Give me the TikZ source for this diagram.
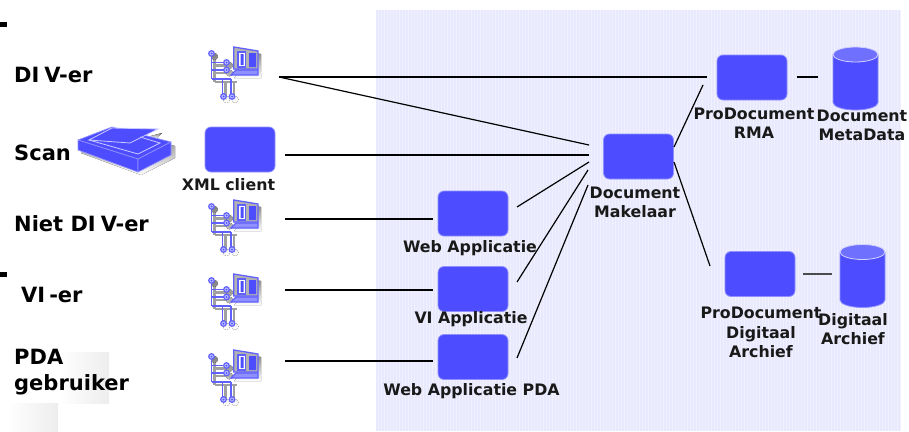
\documentclass[tikz,border=0pt]{standalone}
\usepackage{fontspec}
\setmainfont{DejaVu Sans}
\definecolor{boxblue}{HTML}{4D4DFF}
\definecolor{boxedge}{HTML}{8F8FFF}
\definecolor{lidblue}{HTML}{7070FF}
\definecolor{panel}{HTML}{E9E9FD}
\definecolor{panelgrid}{HTML}{F0F0FE}
\definecolor{shade}{HTML}{A0A0A0}
\definecolor{wire}{HTML}{6060FF}
\tikzset{
  appbox/.style={draw=boxedge,line width=0.8pt,fill=boxblue,rounded corners=6pt,minimum width=70pt,minimum height=45pt,inner sep=0pt,outer sep=0pt},
  actor/.style={anchor=west,inner sep=0pt,font=\fontsize{21}{26}\selectfont\bfseries,align=left},
  captext/.style={inner sep=0pt,font=\fontsize{15.8}{19.2}\selectfont\bfseries,align=center,text=black!90},
  link/.style={draw=black,line width=1.2pt},
  drum/.pic={
    \draw[boxedge,line width=0.8pt,fill=boxblue] (-22.5,-24) -- (-22.5,24) arc[start angle=180,end angle=0,x radius=22.5,y radius=7.5] -- (22.5,-24) -- cycle;
    \draw[white!75!boxblue,line width=0.8pt,fill=lidblue] (0,-24) ellipse [x radius=22.5,y radius=7.5];
  },
  board/.pic={
    \begin{scope}[shift={(3,3)},draw=shade,line width=2.4pt]
      \draw (3.5,9) -- (3.5,32) (3.5,15.5) -- (18.5,15.5) (3.5,23) -- (18.5,23) (3.5,32) -- (26,32) (14.5,32) -- (14.5,47) (23,32) -- (23,47);
      \fill[shade] (25.7,0) -- (50,4) -- (50,22) -- (25.7,22) -- cycle (23,28) -- (28,23) -- (50,23) -- (50,28) -- cycle;
      \fill[shade] (3.5,6.5) circle (3.4) (18.5,15.5) circle (3.4) (18.5,23) circle (3.4) (15.5,49.5) circle (3.4) (24,49.5) circle (3.4);
    \end{scope}
    \begin{scope}[draw=wire,line width=1.7pt]
      \draw (3.5,9) -- (3.5,32) (3.5,15.5) -- (18.5,15.5) (3.5,23) -- (18.5,23) (3.5,32) -- (23,32) (14.5,32) -- (14.5,47) (23,32) -- (23,47);
      \draw[fill=black!30!white,line width=1.3pt] (25.7,0) -- (50,4) -- (50,22) -- (25.7,22) -- cycle;
      \draw[fill=white,line width=1.2pt] (30,5) rectangle (37.5,20);
      \fill[boxblue] (32.5,7) rectangle (35.5,18) (41,6) rectangle (48,20);
      \draw[fill=boxedge,line width=1.1pt] (23,28) -- (28,23) -- (50,23) -- (50,28) -- cycle;
      \draw[fill=white!60!wire,line width=1.2pt] (3.5,6.5) circle (2.8) (18.5,15.5) circle (2.8) (18.5,23) circle (2.8) (15.5,49.5) circle (2.8) (24,49.5) circle (2.8);
      \fill[boxblue] (3.5,6.5) circle (1) (18.5,15.5) circle (1) (18.5,23) circle (1) (15.5,49.5) circle (1) (24,49.5) circle (1);
    \end{scope}
  }
}
\begin{document}
\begin{tikzpicture}[x=1pt,y=-1pt]
\useasboundingbox (0,0) rectangle (909,431);
% panel
\fill[panel] (376,10) rectangle (901,431);
\draw[panelgrid,line width=0.5pt,step=3] (376,10) grid (901,431);
% checker behind PDA label
\shade[left color=white,right color=black!7] (58,352) rectangle (109,403);
\shade[left color=white,right color=black!7] (7,403) rectangle (58,431);
% bullets
\fill[black] (0,22) rectangle (7,27);
\fill[black] (0,272) rectangle (7,277);
% actors
\node[actor] (divLabel) at (14,75) {DI\kern5pt V-er};
\node[actor] (scanLabel) at (14,153) {Scan};
\node[actor] (nietLabel) at (14,224) {Niet DI\kern5pt V-er};
\node[actor] (viLabel) at (21,295) {VI\kern4pt -er};
\node[actor] (pdaLabel) at (14,372.5) {PDA\\gebruiker};
% icons
\pic (iconDiv) at (208,47) {board};
\pic (iconNiet) at (208,200) {board};
\pic (iconVi) at (208,274) {board};
\pic (iconPda) at (208,350) {board};
% scanner
\fill[shade] (81,144) -- (115,131) -- (175,146) -- (175,158) -- (141,175) -- (81,153) -- cycle;
\fill[shade] (147,137) -- (162,133) -- (157,138) -- cycle;
\draw[boxedge,fill=boxblue,line width=0.7pt,line join=round] (78,140) -- (112,127) -- (171,142) -- (138,159) -- cycle;
\draw[boxedge,fill=boxblue,line width=0.7pt,line join=round] (78,140) -- (138,159) -- (138,172) -- (78,150) -- cycle;
\draw[boxedge,fill=boxblue,line width=0.7pt,line join=round] (138,159) -- (171,142) -- (171,155) -- (138,172) -- cycle;
\draw[white!70!boxblue,fill=boxblue,line width=0.8pt] (89,140) -- (112,128) -- (158,129) -- (130,143) -- cycle;
\draw[white!70!boxblue,line width=0.8pt] (89,140) -- (138,154) -- (160,143) -- (140,137);
% boxes
\node[appbox] (xml) at (240,149.5) {};
\node[appbox] (web) at (473,213.5) {};
\node[appbox] (vi) at (473,289) {};
\node[appbox] (pda) at (473,357) {};
\node[appbox] (mak) at (638.5,156.5) {};
\node[appbox] (rma) at (752,77.5) {};
\node[appbox] (pro) at (760,274) {};
\pic (meta) at (855.5,78.5) {drum};
\pic (arch) at (862.5,276) {drum};
% captions
\node[captext] (xmlCap) at (228.5,184.5) {XML client};
\node[captext] (webCap) at (470,248) {Web Applicatie};
\node[captext] (viCap) at (471,319) {VI Applicatie};
\node[captext] (pdaCap) at (471.5,391) {Web Applicatie PDA};
\node[captext] (makCap) at (635,202.5) {Document\\Makelaar};
\node[captext] (rmaCap) at (754,123.5) {ProDocument\\RMA};
\node[captext] (metaCap) at (862,125.5) {Document\\MetaData};
\node[captext] (proCap) at (761,332.5) {ProDocument\\Digitaal\\Archief};
\node[captext] (archCap) at (853,329) {Digitaal\\Archief};
% connector ends
\coordinate (divOut) at (279,77);
\coordinate (xmlOut) at (285,155);
\coordinate (nietOut) at (285,219);
\coordinate (viOut) at (285,290);
\coordinate (pdaOut) at (285,361);
\coordinate (webIn) at (433,219);
\coordinate (viIn) at (433,290);
\coordinate (pdaIn) at (433,361);
\coordinate (webOut) at (517,207);
\coordinate (viAppOut) at (517,282);
\coordinate (pdaAppOut) at (517,358);
\coordinate (makA) at (589,145);
\coordinate (makB) at (589,155);
\coordinate (makC) at (589,162);
\coordinate (makD) at (588,170);
\coordinate (makE) at (588,185);
\coordinate (makUp) at (674,147);
\coordinate (makDown) at (674,162);
\coordinate (rmaIn) at (707,77);
\coordinate (rmaLow) at (703,85);
\coordinate (proIn) at (710,266);
\coordinate (rmaOut) at (797,77);
\coordinate (metaIn) at (818,77);
\coordinate (proOut) at (803,274);
\coordinate (archIn) at (832,274);
% connectors
\draw[link] (divOut) -- (rmaIn);
\draw[link] (divOut) -- (makA);
\draw[link] (xmlOut) -- (makB);
\draw[link] (nietOut) -- (webIn);
\draw[link] (viOut) -- (viIn);
\draw[link] (pdaOut) -- (pdaIn);
\draw[link] (webOut) -- (makC);
\draw[link] (viAppOut) -- (makD);
\draw[link] (pdaAppOut) -- (makE);
\draw[link] (makUp) -- (rmaLow);
\draw[link] (makDown) -- (proIn);
\draw[link] (rmaOut) -- (metaIn);
\draw[link,draw=black!70] (proOut) -- (archIn);
\end{tikzpicture}
\end{document}
